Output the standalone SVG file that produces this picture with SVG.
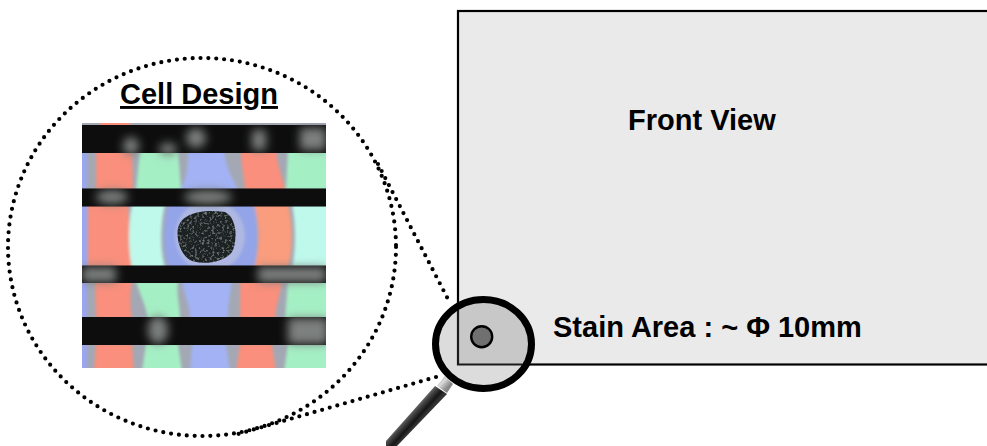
<svg xmlns="http://www.w3.org/2000/svg" width="987" height="446" viewBox="0 0 987 446">
<style>
.lbl{font-family:"Liberation Sans",Arial,sans-serif;font-weight:700;fill:#000;font-size:29px}
.dot{fill:none;stroke:#000;stroke-width:4.2;stroke-linecap:round;stroke-dasharray:0 7.9}
.r{fill:#f98f7c}.g{fill:#a5efc5}.c{fill:#bff9ec}.b{fill:#a2b2f4}.k{fill:#0a0808}
</style>
<defs>
<filter id="bl" x="-10%" y="-10%" width="120%" height="120%"><feGaussianBlur stdDeviation="1.8"/></filter>
<filter id="bs" x="-5%" y="-20%" width="110%" height="140%"><feGaussianBlur stdDeviation="0.7"/></filter>
<filter id="bl2" x="-60%" y="-60%" width="220%" height="220%"><feGaussianBlur stdDeviation="5"/></filter>
<filter id="grain" x="0" y="0" width="100%" height="100%"><feTurbulence type="fractalNoise" baseFrequency="0.4" numOctaves="2" seed="4"/><feColorMatrix values="0 0 0 0 0.45 0 0 0 0 0.5 0 0 0 0 0.52 1.2 0 0 0 -0.62"/><feComposite in2="SourceGraphic" operator="in"/><feMerge><feMergeNode in="SourceGraphic"/><feMergeNode/></feMerge><feGaussianBlur stdDeviation="0.35"/></filter>
<clipPath id="ph"><rect x="82" y="123" width="244" height="245"/></clipPath>
<clipPath id="inR"><rect x="458" y="11" width="529" height="353.5"/></clipPath>
<linearGradient id="hd" gradientUnits="userSpaceOnUse" x1="431" y1="386" x2="442" y2="396"><stop offset="0" stop-color="#8a8a8a"/><stop offset=".4" stop-color="#444"/><stop offset=".75" stop-color="#161616"/><stop offset="1" stop-color="#333"/></linearGradient>
<linearGradient id="nk" gradientUnits="userSpaceOnUse" x1="438" y1="376" x2="449" y2="386"><stop offset="0" stop-color="#777"/><stop offset=".5" stop-color="#ddd"/><stop offset="1" stop-color="#888"/></linearGradient>
</defs>
<g id="connectors">
<ellipse class="dot" cx="202" cy="247" rx="194" ry="189"/>
<path class="dot" d="M378 164L450 303"/>
<path class="dot" d="M436 377L238 434"/>
</g>
<g id="front-view">
<rect x="458" y="11" width="535" height="353.5" fill="#eaeaea" stroke="#000" stroke-width="2.2"/>
<text class="lbl" x="628" y="130">Front View</text>
<text class="lbl" x="553" y="337">Stain Area : ~ Φ 10mm</text>
</g>
<g id="cell-design">
<text class="lbl" x="199" y="104" text-anchor="middle" text-decoration="underline">Cell Design</text>
<g clip-path="url(#ph)">
<rect x="82" y="123" width="244" height="245" fill="#a3a8b4"/>
<g filter="url(#bl)">
<rect x="78" y="150" width="9" height="220" fill="#9aa6f0"/>
<rect class="r" x="100" y="118" width="30" height="10"/>
<path class="r" d="M96 150H132L133 190H96Z"/>
<path class="g" d="M140 150H178L181 190H136Z"/>
<path class="b" d="M188 150H224C226 170 234 180 238 190H180C186 180 188 170 188 150Z"/>
<path class="r" d="M241 150H276C278 170 284 180 285 190H245C244 175 241 165 241 150Z"/>
<path class="g" d="M288 150H330V190H286Z"/>
<path class="r" d="M88 204H128C130 225 130 250 133 268H88Z"/>
<path class="c" d="M132 204H165C160 225 160 250 165 268H132C128 250 128 225 132 204Z"/>
<path d="M168 204H254C258 225 258 250 254 268H168C163 250 163 225 168 204Z" fill="#93a4e8"/>
<ellipse cx="210" cy="236" rx="35" ry="36" fill="#aeb8e2"/>
<path d="M254 204H288C293 225 293 250 288 268H254C260 250 260 225 254 204Z" fill="#fa9c7e"/>
<path class="c" d="M292 204H330V268H292C296 250 296 225 292 204Z"/>
<path class="r" d="M95 281H132C130 295 130 305 132 319H96Z"/>
<path class="g" d="M136 281H178C176 295 180 305 180 319H148C146 305 140 295 136 281Z"/>
<path class="b" d="M182 281H232C230 295 228 305 228 319H190C190 305 184 295 182 281Z"/>
<path class="r" d="M240 281H282C280 295 276 305 275 319H240Z"/>
<path class="g" d="M288 281H330V319H285Z"/>
<path class="r" d="M96 344H132L134 372H94Z"/><path class="g" d="M146 344H178L182 372H142Z"/><path class="b" d="M192 344H226L230 372H190Z"/><path class="r" d="M240 344H272L276 372H236Z"/><path class="g" d="M288 344H330V372H284Z"/>
</g>
<g filter="url(#bs)">
<rect class="k" x="78" y="125" width="252" height="28"/>
<rect class="k" x="78" y="188.5" width="252" height="18"/>
<rect class="k" x="78" y="265.5" width="252" height="17.5"/>
<rect class="k" x="78" y="317" width="252" height="28"/>
</g>
<g filter="url(#bl2)" fill="#7c807e">
<ellipse cx="196" cy="138" rx="10" ry="10"/><ellipse cx="131" cy="146" rx="8" ry="9"/><ellipse cx="168" cy="149" rx="9" ry="6"/><rect x="252" y="130" width="14" height="20"/><rect x="300" y="128" width="26" height="22"/><ellipse cx="112" cy="197" rx="16" ry="7"/><ellipse cx="208" cy="197" rx="24" ry="7"/><rect x="82" y="267" width="34" height="15"/><rect x="258" y="267" width="68" height="15"/><rect x="288" y="318" width="40" height="26"/><ellipse cx="158" cy="330" rx="10" ry="14"/>
</g>
<path d="M178 228C182 212 205 209 225 212C237 218 238 240 232 252C222 264 200 265 190 260C180 254 176 238 178 228Z" fill="#1c2024" filter="url(#grain)"/>
</g>
</g>
<g id="magnifier">
<path d="M437 386L445 376L453 384L447 393Z" fill="url(#nk)"/>
<path d="M435 386L447 394L397 446H386V441Z" fill="url(#hd)"/>
<ellipse cx="483.5" cy="344" rx="48" ry="44.5" fill="#dcdcdc"/>
<ellipse cx="483.5" cy="344" rx="48" ry="44.5" fill="#c8c8c8" clip-path="url(#inR)"/>
<path d="M458 302V364.5H522" fill="none" stroke="#1a1a1a" stroke-width="2.2"/>
<ellipse cx="483.5" cy="344" rx="48" ry="44.5" fill="none" stroke="#000" stroke-width="7"/>
</g>
<g id="stain"><circle cx="481.7" cy="336.7" r="10.5" fill="#707070" stroke="#000" stroke-width="2.4"/></g>
</svg>
